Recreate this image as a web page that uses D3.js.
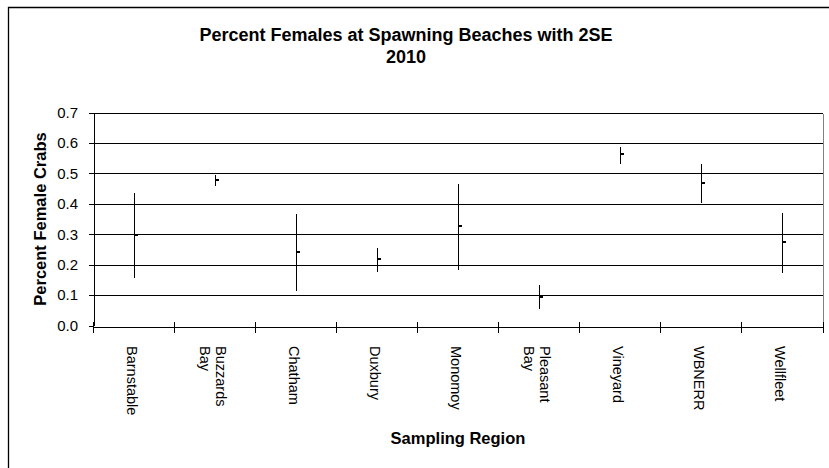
<!DOCTYPE html>
<html>
<head>
<meta charset="utf-8">
<script src="https://cdn.jsdelivr.net/npm/d3@7"></script>
<style>
  html, body { margin: 0; padding: 0; background: #fff; }
  svg { display: block; font-family: Arial, "Liberation Sans", sans-serif; }
</style>
</head>
<body>
<svg id="chart" width="829" height="468"></svg>
<script>
// Sampling regions (x categories)
const regions = ["Barnstable", "Buzzards Bay", "Chatham", "Duxbury", "Monomoy",
                 "Pleasant Bay", "Vineyard", "WBNERR", "Wellfleet"];
// Mean proportion of female crabs per region
const meanFemale = [0.296, 0.478, 0.242, 0.219, 0.327, 0.094, 0.563, 0.469, 0.274];
// Mean + 2SE and mean - 2SE
const upper2SE = [0.437, 0.495, 0.367, 0.254, 0.464, 0.133, 0.585, 0.531, 0.370];
const lower2SE = [0.155, 0.458, 0.112, 0.176, 0.181, 0.055, 0.532, 0.402, 0.171];
// Y axis tick values
const yTicks = [0, 0.1, 0.2, 0.3, 0.4, 0.5, 0.6, 0.7];

const titleLines = ["Percent Females at Spawning Beaches with 2SE", "2010"];
const yTitle = "Percent Female Crabs";
const xTitle = "Sampling Region";

const FONT = "Arial, 'Liberation Sans', sans-serif";

const svg = d3.select("#chart");
const plot = { left: 93, right: 822.5, top: 112.5, bottom: 325.5 };

const x = d3.scaleBand().domain(regions).range([plot.left, plot.right]).padding(0);
const y = d3.scaleLinear().domain([0, 0.7]).range([plot.bottom, plot.top]);

// Chart area frame (left and top edges)
svg.append("path")
  .attr("d", `M8.5,468 L8.5,7.5 L829,7.5`)
  .attr("fill", "none").attr("stroke", "#000").attr("stroke-width", 1.3);

// Title
const title = svg.append("text")
  .attr("text-anchor", "middle")
  .attr("font-family", FONT)
  .attr("font-weight", "bold").attr("font-size", 18);
titleLines.forEach((t, i) => {
  title.append("tspan").attr("x", 406).attr("y", 40.5 + i * 22).text(t);
});

// Horizontal gridlines
svg.append("g")
  .selectAll("line")
  .data(yTicks.filter(d => d > 0))
  .join("line")
  .attr("x1", plot.left).attr("x2", plot.right)
  .attr("y1", d => Math.round(y(d)) + 0.5).attr("y2", d => Math.round(y(d)) + 0.5)
  .attr("stroke", "#000").attr("stroke-width", 1)
  .attr("shape-rendering", "crispEdges");

// Right edge of plot area
svg.append("line")
  .attr("x1", Math.round(plot.right) + 0.5).attr("x2", Math.round(plot.right) + 0.5)
  .attr("y1", Math.round(y(0.7)) + 0.5).attr("y2", Math.round(y(0)) + 0.5)
  .attr("stroke", "#808080").attr("shape-rendering", "crispEdges");

// Y axis
const yAxis = svg.append("g")
  .attr("transform", `translate(${plot.left + 0.5},0)`)
  .call(d3.axisLeft(y).tickValues(yTicks).tickFormat(d3.format(".1f")).tickSize(5).tickSizeOuter(0))
  .attr("shape-rendering", "crispEdges");
yAxis.select(".domain").attr("stroke", "#000");
yAxis.selectAll(".tick line").attr("stroke", "#000");
yAxis.selectAll(".tick text")
  .attr("font-family", FONT)
  .attr("font-size", 15).attr("fill", "#000").attr("x", -15.5);

// X axis: category labels at band centres, tick marks at band boundaries
const xAxis = svg.append("g")
  .attr("transform", `translate(0,${Math.round(plot.bottom) + 0.5})`)
  .call(d3.axisBottom(x).tickSize(0).tickSizeOuter(0))
  .attr("shape-rendering", "crispEdges");
xAxis.select(".domain").attr("stroke", "#000");
xAxis.selectAll(".tick text").remove();

const bounds = regions.map(r => x(r)).concat([plot.right]);
xAxis.selectAll(".bound")
  .data(bounds)
  .join("line")
  .attr("class", "bound")
  .attr("x1", d => Math.round(d) + 0.5).attr("x2", d => Math.round(d) + 0.5)
  .attr("y1", -5).attr("y2", 6)
  .attr("stroke", "#000");

// Rotated category labels (wrapped at spaces)
const labels = svg.append("g")
  .selectAll("g")
  .data(regions)
  .join("g")
  .attr("transform", d => `translate(${x(d) + x.bandwidth() / 2 - 2},346) rotate(90)`);
labels.each(function (d) {
  const lines = d.split(" ");
  const g = d3.select(this);
  const gap = 16;
  lines.forEach((ln, i) => {
    g.append("text")
      .attr("x", 0)
      .attr("y", (i - (lines.length - 1) / 2) * gap)
      .attr("dominant-baseline", "central")
      .attr("font-family", FONT)
      .attr("font-size", 14.5).attr("fill", "#000")
      .text(ln);
  });
});

// Error bars (mean ± 2SE)
const idx = d3.range(regions.length);
svg.append("g")
  .selectAll("line")
  .data(idx)
  .join("line")
  .attr("x1", i => Math.round(x(regions[i]) + x.bandwidth() / 2) + 0.5)
  .attr("x2", i => Math.round(x(regions[i]) + x.bandwidth() / 2) + 0.5)
  .attr("y1", i => y(upper2SE[i]))
  .attr("y2", i => y(lower2SE[i]))
  .attr("stroke", "#000").attr("stroke-width", 1)
  .attr("shape-rendering", "crispEdges");

// Mean markers
svg.append("g")
  .selectAll("rect")
  .data(idx)
  .join("rect")
  .attr("x", i => Math.round(x(regions[i]) + x.bandwidth() / 2))
  .attr("y", i => Math.round(y(meanFemale[i])) - 1)
  .attr("width", 4).attr("height", 2)
  .attr("fill", "#000");

// Axis titles
svg.append("text")
  .attr("transform", `translate(46,${(plot.top + plot.bottom) / 2}) rotate(-90)`)
  .attr("text-anchor", "middle")
  .attr("font-family", FONT)
  .attr("font-weight", "bold").attr("font-size", 16.5)
  .text(yTitle);

svg.append("text")
  .attr("x", 458).attr("y", 444)
  .attr("text-anchor", "middle")
  .attr("font-family", FONT)
  .attr("font-weight", "bold").attr("font-size", 16.5)
  .text(xTitle);
</script>
</body>
</html>
